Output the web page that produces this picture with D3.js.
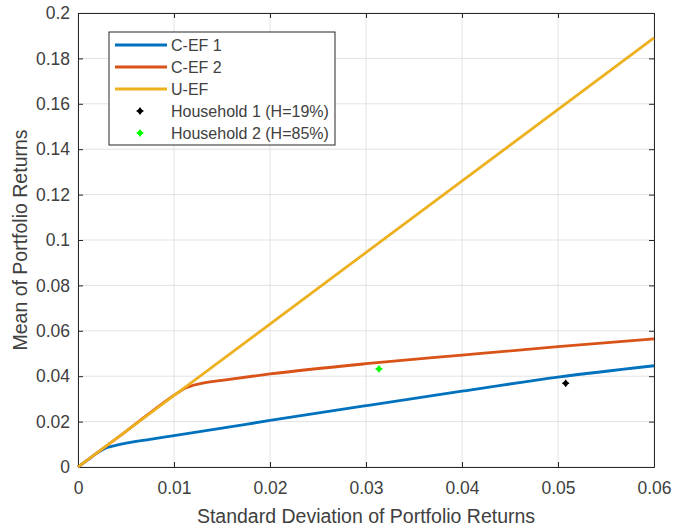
<!DOCTYPE html>
<html>
<head>
<meta charset="utf-8">
<script src="https://cdn.jsdelivr.net/npm/d3@7"></script>
<style>
  body { margin: 0; background: #fff; }
  svg text { font-family: "Liberation Sans", Arial, sans-serif; fill: #404040; }
</style>
</head>
<body>
<div id="chart"></div>
<script>
// Efficient frontiers vs household portfolios

const xTicks = [0, 0.01, 0.02, 0.03, 0.04, 0.05, 0.06];
const yTicks = [0, 0.02, 0.04, 0.06, 0.08, 0.1, 0.12, 0.14, 0.16, 0.18, 0.2];

// [std, mean]
const cef1 = [[0, 0], [0.001, 0.0031], [0.002, 0.0062], [0.0028, 0.0082], [0.0036, 0.0092],
  [0.005, 0.0105], [0.0075, 0.0122], [0.01, 0.0138], [0.015, 0.0171], [0.02, 0.0205],
  [0.03, 0.027], [0.04, 0.0334], [0.05, 0.0396], [0.06, 0.0446]];
const cef2 = [[0, 0], [0.005, 0.0157], [0.0105, 0.033], [0.0112, 0.0348], [0.012, 0.0360],
  [0.013, 0.0370], [0.015, 0.0382], [0.02, 0.041], [0.03, 0.0455], [0.04, 0.0493],
  [0.05, 0.053], [0.06, 0.0564]];
const uef = [[0, 0], [0.06, 0.189]];

const households = [
  { name: "Household 1 (H=19%)", x: 0.0508, y: 0.0369, color: "#000000" },
  { name: "Household 2 (H=85%)", x: 0.03135, y: 0.0432, color: "#00ff00" }
];

const series = [
  { name: "C-EF 1", data: cef1, color: "#0072bd" },
  { name: "C-EF 2", data: cef2, color: "#d95319" },
  { name: "U-EF", data: uef, color: "#edb120" }
];

const width = 674, height = 527;
const margin = { left: 78, right: 20, top: 13, bottom: 60 };

const svg = d3.select("#chart").append("svg")
  .attr("width", width)
  .attr("height", height);

const x = d3.scaleLinear().domain([0, 0.06]).range([margin.left, width - margin.right]);
const y = d3.scaleLinear().domain([0, 0.2]).range([height - margin.bottom, margin.top]);

// grid
svg.append("g").selectAll("line")
  .data(xTicks).join("line")
  .attr("x1", d => x(d)).attr("x2", d => x(d))
  .attr("y1", y(0)).attr("y2", y(0.2))
  .attr("stroke", "#e3e3e3");
svg.append("g").selectAll("line")
  .data(yTicks).join("line")
  .attr("x1", x(0)).attr("x2", x(0.06))
  .attr("y1", d => y(d)).attr("y2", d => y(d))
  .attr("stroke", "#e3e3e3");

// axes (ticks inward, box on)
const fmt = d => d === 0 ? "0" : String(+d.toFixed(2));
const axStyle = g => {
  g.select(".domain").attr("stroke", "#262626");
  g.selectAll(".tick line").attr("stroke", "#262626");
  g.selectAll(".tick text").attr("fill", "#404040").style("font-size", "17.5px")
    .style("font-family", "'Liberation Sans', Arial, sans-serif");
};
svg.append("g")
  .attr("transform", `translate(0,${y(0)})`)
  .call(d3.axisBottom(x).tickValues(xTicks).tickFormat(fmt).tickSize(-5).tickSizeOuter(0).tickPadding(15))
  .call(axStyle);
svg.append("g")
  .attr("transform", `translate(${x(0)},0)`)
  .call(d3.axisLeft(y).tickValues(yTicks).tickFormat(fmt).tickSize(-5).tickSizeOuter(0).tickPadding(8))
  .call(axStyle);
svg.append("g")
  .attr("transform", `translate(0,${y(0.2)})`)
  .call(d3.axisTop(x).tickValues(xTicks).tickFormat("").tickSize(-5).tickSizeOuter(0))
  .call(axStyle);
svg.append("g")
  .attr("transform", `translate(${x(0.06)},0)`)
  .call(d3.axisRight(y).tickValues(yTicks).tickFormat("").tickSize(-5).tickSizeOuter(0))
  .call(axStyle);

// curves
const line = d3.line().x(d => x(d[0])).y(d => y(d[1])).curve(d3.curveMonotoneX);
svg.append("g").selectAll("path")
  .data(series).join("path")
  .attr("d", d => line(d.data))
  .attr("fill", "none")
  .attr("stroke", d => d.color)
  .attr("stroke-width", 2.8);

// household markers (small diamond with a cross)
const diamond = d3.symbol().type(d3.symbolDiamond2).size(30);
const marker = sel => {
  sel.append("path").attr("d", diamond).attr("fill", d => d.color);
  sel.append("path").attr("d", "M-3.5,0H3.5M0,-3.5V3.5")
    .attr("stroke", d => d.color).attr("stroke-width", 1.2);
};
svg.append("g").selectAll("g")
  .data(households).join("g")
  .attr("transform", d => `translate(${x(d.x)},${y(d.y)})`)
  .call(marker);

// axis labels
svg.append("text")
  .attr("x", x(0.03)).attr("y", 523)
  .attr("text-anchor", "middle")
  .style("font-size", "19.5px")
  .text("Standard Deviation of Portfolio Returns");
svg.append("text")
  .attr("transform", `translate(27,${y(0.1)}) rotate(-90)`)
  .attr("text-anchor", "middle")
  .style("font-size", "19.5px")
  .text("Mean of Portfolio Returns");

// legend
const lg = svg.append("g").attr("transform", "translate(109,32)");
lg.append("rect")
  .attr("width", 226).attr("height", 113)
  .attr("fill", "#fff").attr("stroke", "#262626");
const rows = series.concat(households);
const row = lg.selectAll("g.row").data(rows).join("g")
  .attr("transform", (d, i) => `translate(0,${13 + i * 22})`);
row.filter(d => d.data).append("line")
  .attr("x1", 6).attr("x2", 58)
  .attr("stroke", d => d.color).attr("stroke-width", 2.8);
row.filter(d => !d.data).append("g")
  .attr("transform", "translate(31,0)")
  .call(marker);
row.append("text")
  .attr("x", 62).attr("dy", "0.35em")
  .style("font-size", "16px")
  .text(d => d.name);
</script>
</body>
</html>
